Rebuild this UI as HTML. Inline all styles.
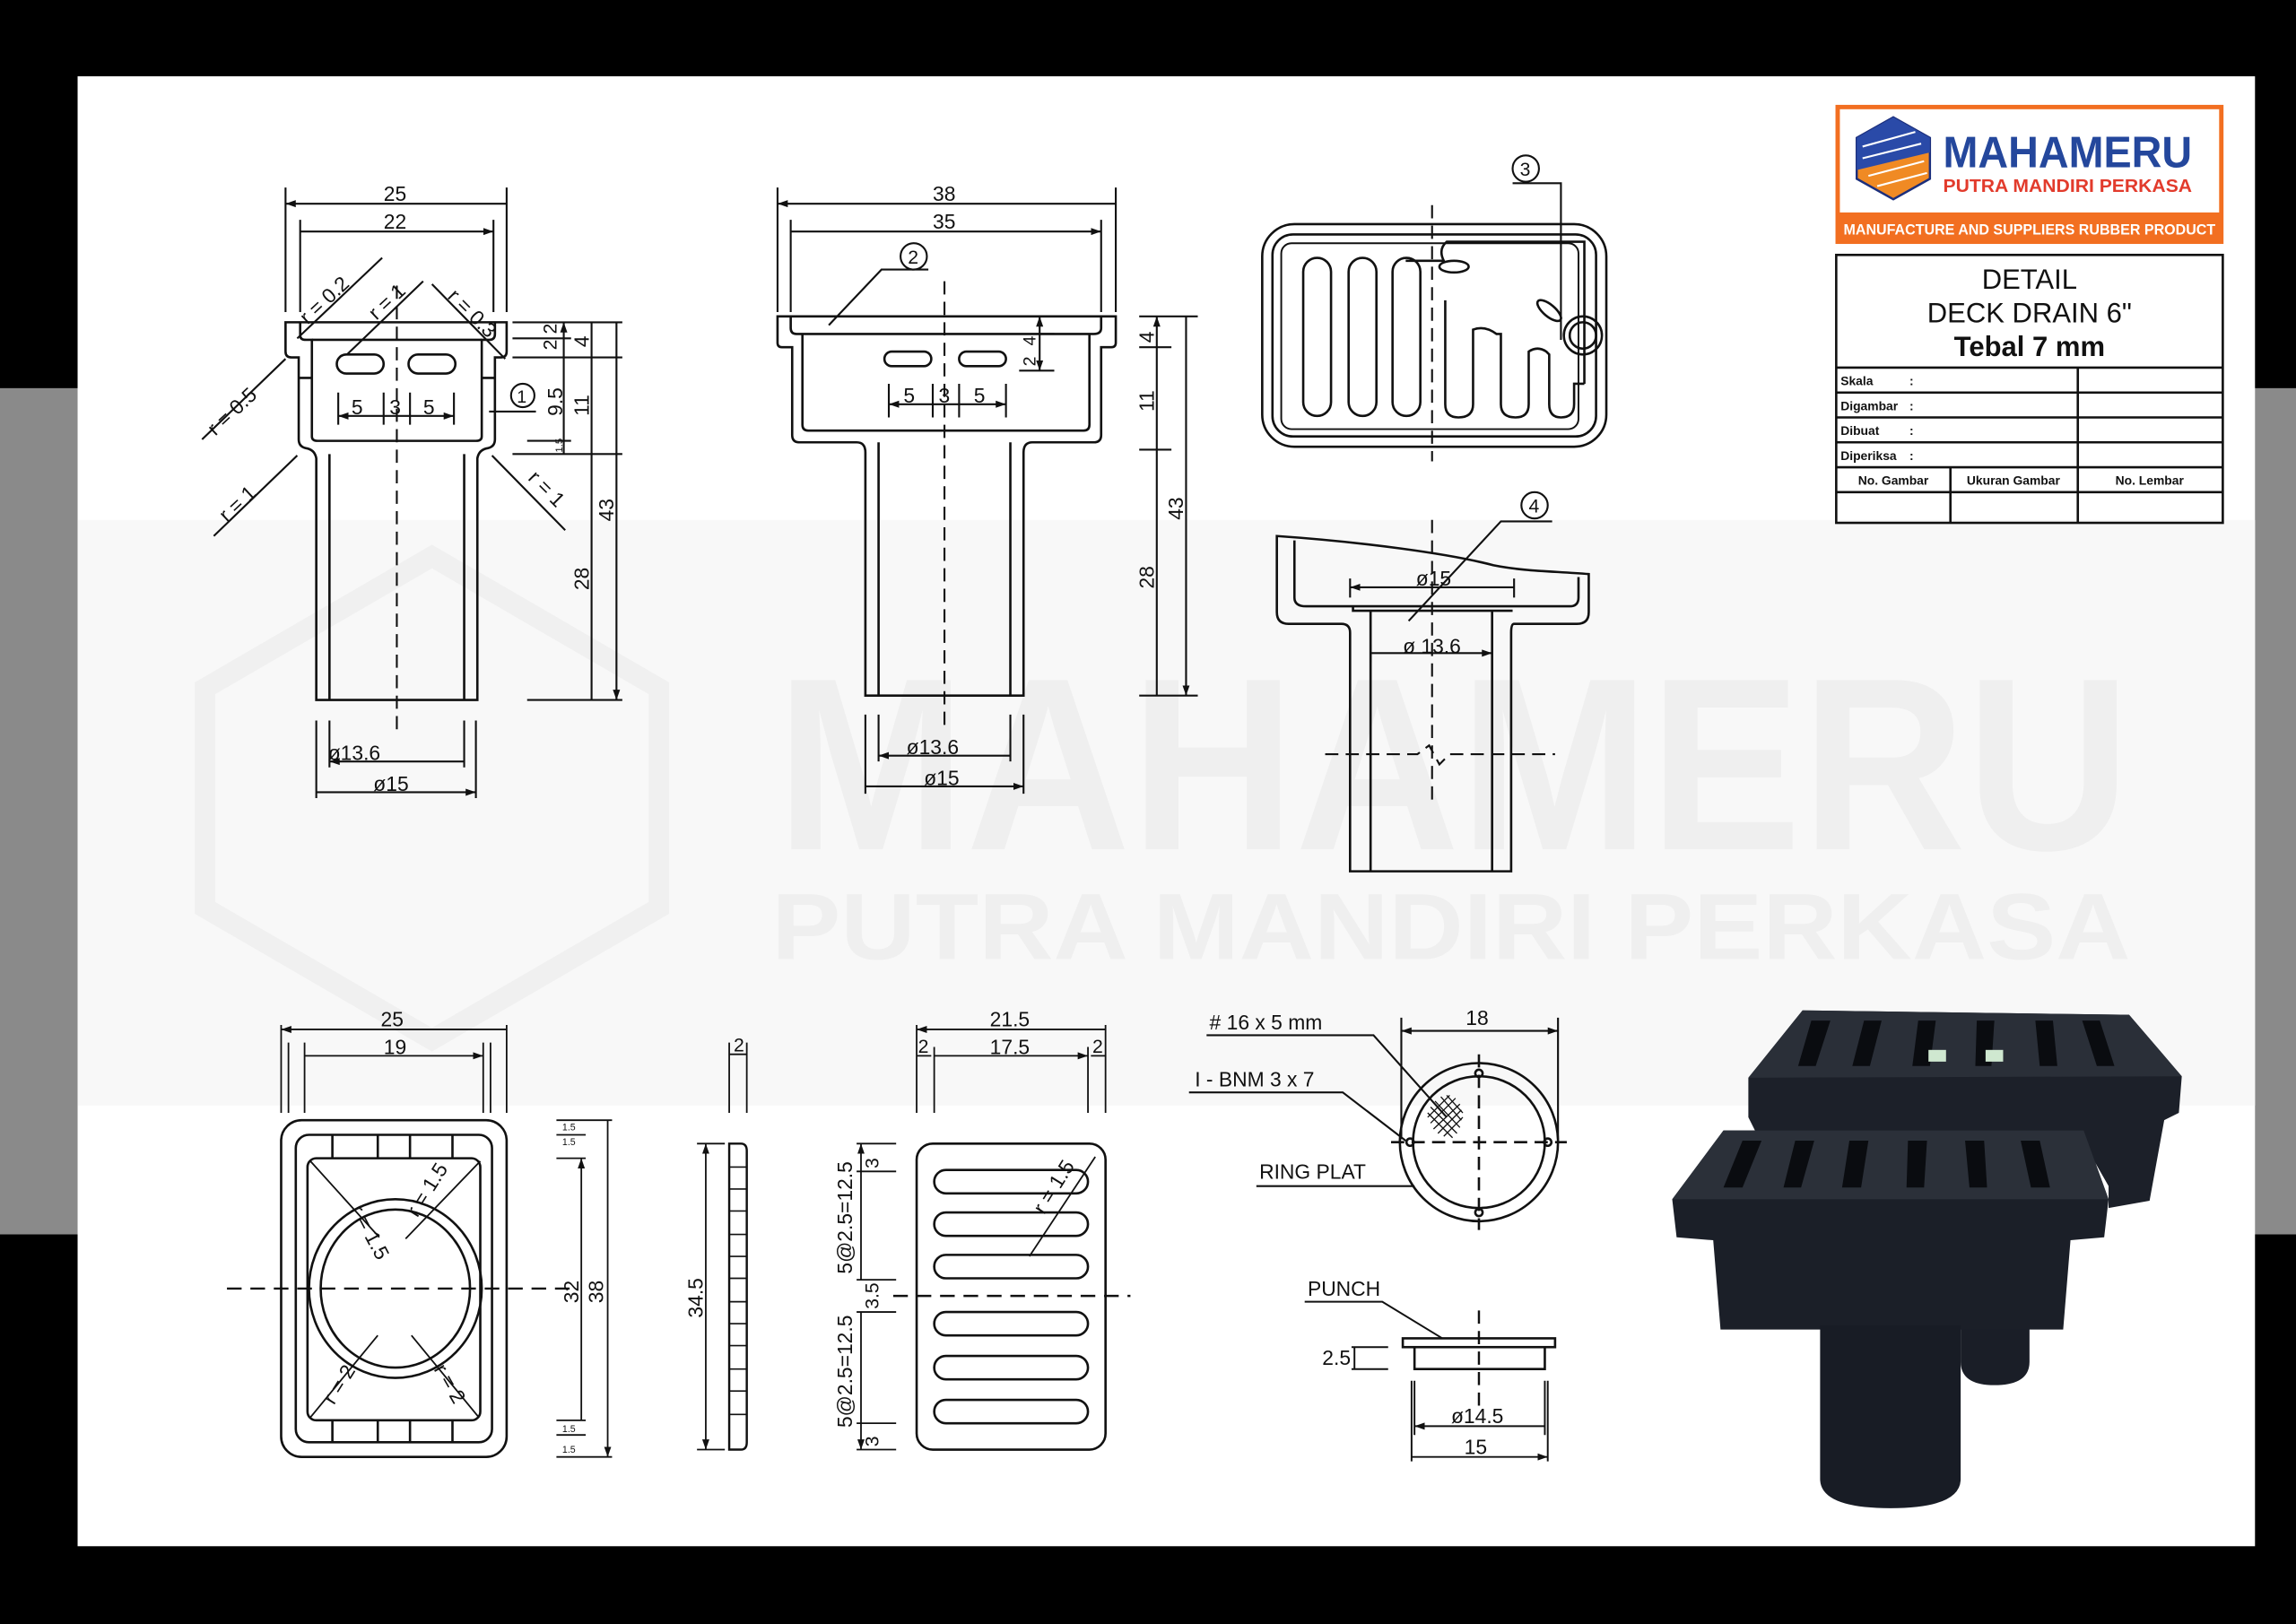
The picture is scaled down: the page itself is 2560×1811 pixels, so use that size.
<!DOCTYPE html>
<html><head><meta charset="utf-8"><style>
html,body{margin:0;padding:0;background:#000;}
svg{display:block;}
text{font-family:"Liberation Sans",sans-serif;fill:#111;}
</style></head><body>
<svg width="2560" height="1811" viewBox="0 0 1568 1109" xmlns="http://www.w3.org/2000/svg">
<defs>
<marker id="a" viewBox="0 0 10 10" refX="10" refY="5" markerWidth="7" markerHeight="7" orient="auto-start-reverse" markerUnits="userSpaceOnUse"><path d="M0,1.5 L10,5 L0,8.5 z" fill="#111"/></marker>
</defs>
<rect width="1568" height="1109" fill="#000"/>
<rect x="0" y="265" width="1568" height="578" fill="#8a8a8a"/>
<rect x="53" y="52" width="1487" height="1004" fill="#fff"/>
<rect x="53" y="355" width="1487" height="400" fill="#f8f8f8"/>
<!-- watermark -->
<g>
<text x="530" y="580" font-size="168" font-weight="bold" textLength="925" lengthAdjust="spacingAndGlyphs" style="fill:#efefef">MAHAMERU</text>
<text x="527" y="655" font-size="64" font-weight="bold" textLength="928" lengthAdjust="spacingAndGlyphs" style="fill:#efefef">PUTRA MANDIRI PERKASA</text>
</g>
<polygon points="295,380 450,470 450,620 295,710 140,620 140,470" fill="none" stroke="#f0f0f0" stroke-width="14"/>

<g fill="none" stroke="#111" stroke-width="1.6">
<!-- DRAWING 1 -->
<path d="M195,220 H346 V240 Q346,244 342,244 H338 V300 Q338,305 333,306 Q327,307 326,313 V478 H216 V313 Q215,307 209,306 Q204,305 204,300 V244 H199 Q195,244 195,240 Z"/>
<path d="M205,220 V229 Q205,232 209,232 H213 V298 Q213,301 217,301 H325 Q329,301 329,298 V232 H334 Q338,232 338,228 V220"/>
<path d="M213,232 H329"/>
<path d="M225,310 V478 M317,310 V478"/>
<path d="M204,258 H213 M329,258 H338"/>
<rect x="230" y="242" width="32" height="13" rx="6.5"/>
<rect x="279" y="242" width="32" height="13" rx="6.5"/>
</g>
<g stroke="#111" stroke-width="1.3" fill="none">
<path d="M271,195 V500" stroke-dasharray="9,5"/>
<path d="M195,128 V213 M346,128 V213 M205,150 V213 M337,150 V213"/>
<path d="M195,139 H346 M205,158 H337" marker-start="url(#a)" marker-end="url(#a)"/>
<path d="M231,268 V290 M262,268 V290 M280,268 V290 M310,268 V290"/>
<path d="M231,284 H262 M262,284 H280 M280,284 H310" marker-start="url(#a)" marker-end="url(#a)"/>
<path d="M350,220 H425 M350,231 H390 M350,244 H425 M360,301 H390 M350,310 H425 M360,478 H425"/>
<path d="M385,220 V231 M385,231 V244 M385,244 V301 M385,301 V310 M404,220 V244 M404,244 V310 M404,310 V478 M421,220 V478" marker-start="url(#a)" marker-end="url(#a)"/>
<path d="M216,492 V545 M325,492 V545 M225,492 V524 M317,492 V524"/>
<path d="M225,520 H317 M216,541 H325" marker-start="url(#a)" marker-end="url(#a)"/>
<path d="M203,231 L261,176 M237,242 L289,192 M295,194 L345,245 M195,245 L138,300 M203,311 L146,366 M336,311 L386,362 M334,281 H366"/>
<circle cx="357" cy="270" r="8"/>
</g>
<g font-size="14">
<text x="262" y="137">25</text><text x="262" y="156">22</text>
<text x="240" y="283">5</text><text x="266" y="283">3</text><text x="289" y="283">5</text>
<text x="353" y="275" font-size="12">1</text>
<text x="224" y="519">ø13.6</text><text x="255" y="540">ø15</text>
<text transform="translate(380,239) rotate(-90)" font-size="13">2</text>
<text transform="translate(380,228) rotate(-90)" font-size="13">2</text>
<text transform="translate(402,237) rotate(-90)">4</text>
<text transform="translate(384,284) rotate(-90)">9.5</text>
<text transform="translate(402,284) rotate(-90)">11</text>
<text transform="translate(384,309) rotate(-90)" font-size="7">1.5</text>
<text transform="translate(402,403) rotate(-90)">28</text>
<text transform="translate(419,356) rotate(-90)">43</text>
<text transform="translate(210,222) rotate(-43)">r = 0.2</text>
<text transform="translate(257,219) rotate(-43)">r = 1</text>
<text transform="translate(305,203) rotate(45)">r = 0.3</text>
<text transform="translate(147,298) rotate(-43)">r = 0.5</text>
<text transform="translate(155,357) rotate(-43)">r = 1</text>
<text transform="translate(360,327) rotate(45)">r = 1</text>
</g>

<!-- DRAWING 2 -->
<g fill="none" stroke="#111" stroke-width="1.6">
<path d="M531,216 H762 V234 Q762,237 759,237 H752 V297 Q752,302 747,302 H705 Q699,302 699,309 V475 H591 V309 Q591,302 585,302 H546 Q541,302 541,297 V237 H534 Q531,237 531,234 Z"/>
<path d="M540,216 V224 Q540,228 544,228 H747 Q752,228 752,224 V216"/>
<path d="M548,228 V290 Q548,294 552,294 H740 Q744,294 744,290 V228"/>
<path d="M600,302 V475 M690,302 V475"/>
<rect x="604" y="240" width="32" height="10" rx="5"/>
<rect x="655" y="240" width="32" height="10" rx="5"/>
</g>
<g stroke="#111" stroke-width="1.3" fill="none">
<path d="M645,192 V500" stroke-dasharray="9,5"/>
<path d="M531,128 V213 M762,128 V213 M540,150 V213 M752,150 V213"/>
<path d="M531,139 H762 M540,158 H752" marker-start="url(#a)" marker-end="url(#a)"/>
<path d="M607,262 V285 M637,262 V285 M655,262 V285 M687,262 V285"/>
<path d="M607,276 H637 M637,276 H655 M655,276 H687" marker-start="url(#a)" marker-end="url(#a)"/>
<path d="M708,228 H720 M696,253 H720"/>
<path d="M710,216 V228 M710,228 V253" marker-start="url(#a)" marker-end="url(#a)"/>
<path d="M778,216 H818 M778,237 H800 M778,307 H800 M778,475 H818"/>
<path d="M790,216 V237 M790,237 V307 M790,307 V475 M810,216 V475" marker-start="url(#a)" marker-end="url(#a)"/>
<path d="M591,488 V542 M699,488 V542 M600,488 V520 M690,488 V520"/>
<path d="M600,516 H690 M591,537 H699" marker-start="url(#a)" marker-end="url(#a)"/>
<path d="M634,184 H602 L566,222"/>
<circle cx="624" cy="175" r="9"/>
</g>
<g font-size="14">
<text x="637" y="137">38</text><text x="637" y="156">35</text>
<text x="617" y="275">5</text><text x="641" y="275">3</text><text x="665" y="275">5</text>
<text x="620" y="180" font-size="13">2</text>
<text transform="translate(707,236) rotate(-90)" font-size="12">4</text>
<text transform="translate(707,250) rotate(-90)" font-size="12">2</text>
<text transform="translate(788,234) rotate(-90)">4</text>
<text transform="translate(788,281) rotate(-90)">11</text>
<text transform="translate(788,402) rotate(-90)">28</text>
<text transform="translate(808,355) rotate(-90)">43</text>
<text x="619" y="515">ø13.6</text><text x="631" y="536">ø15</text>
</g>

<!-- DRAWING 3 grate top -->
<g fill="none" stroke="#111" stroke-width="1.6">
<rect x="862" y="153" width="235" height="152" rx="22"/>
<rect x="869" y="160" width="221" height="138" rx="14"/>
<rect x="875" y="166" width="203" height="127" rx="7" stroke-width="1.2"/>
<rect x="890" y="176" width="19" height="108" rx="9.5"/>
<rect x="921" y="176" width="19" height="108" rx="9.5"/>
<rect x="951" y="176" width="19" height="108" rx="9.5"/>
<path d="M987,205 V276 Q987,285 996,285 Q1006,285 1006,276 V225 Q1014,222 1022,228 L1025,228 V276 Q1025,285 1035,285 Q1044,285 1044,276 V240 Q1050,236 1056,240 L1058,242 V276 Q1058,285 1066,285 Q1075,285 1075,276 V262 L1082,262"/>
<path d="M960,178 L986,178 Q982,170 988,165 L1082,165 V262"/>
<ellipse cx="993" cy="182" rx="10" ry="4"/>
<ellipse cx="1058" cy="212" rx="10" ry="4" transform="rotate(40 1058 212)"/>
<circle cx="1081" cy="229" r="13"/><circle cx="1081" cy="229" r="9"/>
</g>
<g stroke="#111" stroke-width="1.3" fill="none">
<path d="M978,140 V315" stroke-dasharray="9,5"/>
<path d="M1033,125 H1066 V232"/>
<circle cx="1042" cy="115" r="9"/>
</g>
<text x="1038" y="120" font-size="13">3</text>

<!-- DRAWING 4 -->
<g fill="none" stroke="#111" stroke-width="1.6">
<path d="M872,366 C930,370 990,378 1020,386 C1040,390 1060,390 1085,392 V418 Q1085,426 1077,426 H1034 Q1032,426 1032,432 V595 H922 V432 Q922,426 916,426 H880 Q872,426 872,418 Z"/>
<path d="M884,369 V408 Q884,414 892,414 H1072 Q1078,414 1078,408 V394"/>
<path d="M924,414 V417 H1033 M936,417 V595 M1019,417 V595"/>
</g>
<g stroke="#111" stroke-width="1.3" fill="none">
<path d="M978,355 V550" stroke-dasharray="9,5"/>
<path d="M905,515 H968 L976,509 L983,522 L990,515 H1062" stroke-dasharray="9,5"/>
<path d="M922,395 V408 M1034,395 V408 M936,440 V452"/>
<path d="M922,401 H1034 M936,446 H1019" marker-start="url(#a)" marker-end="url(#a)"/>
<path d="M1060,356 H1025 L962,424"/>
<circle cx="1048" cy="345" r="9"/>
</g>
<text x="1044" y="350" font-size="13">4</text>
<text x="967" y="400" font-size="14">ø15</text>
<text x="958" y="446" font-size="14">ø 13.6</text>

<!-- TITLE BLOCK -->
<rect x="1255" y="73" width="262" height="92" fill="#fff" stroke="#f26f21" stroke-width="3"/>
<rect x="1255" y="145" width="262" height="20" fill="#f26f21"/>
<text x="1386" y="160" font-size="10" font-weight="bold" text-anchor="middle" style="fill:#fff" textLength="254" lengthAdjust="spacingAndGlyphs">MANUFACTURE AND SUPPLIERS RUBBER PRODUCT</text>
<polygon points="1293,80 1318,94 1318,122 1293,136 1268,122 1268,94" fill="#f08a24" stroke="#1c2f7c" stroke-width="1.5"/>
<polygon points="1293,80 1318,94 1318,104 1268,116 1268,94" fill="#2a4aa8"/>
<g stroke="#fff" stroke-width="1.3"><path d="M1272,100 L1308,90 M1272,108 L1312,98 M1276,120 L1314,110 M1282,127 L1316,118"/></g>
<text x="1327" y="114" font-size="30" font-weight="bold" style="fill:#24479c" textLength="170" lengthAdjust="spacingAndGlyphs">MAHAMERU</text>
<text x="1327" y="131" font-size="12.5" font-weight="bold" style="fill:#e23b2c" textLength="170" lengthAdjust="spacingAndGlyphs">PUTRA MANDIRI PERKASA</text>
<g fill="none" stroke="#111" stroke-width="1.6">
<rect x="1254" y="174" width="264" height="183"/>
<path d="M1254,251 H1518 M1254,268 H1518 M1254,285 H1518 M1254,302 H1518 M1254,319 H1518 M1254,336 H1518 M1419,251 V357 M1332,319 V357"/>
</g>
<g font-size="19" text-anchor="middle"><text x="1386" y="197">DETAIL</text><text x="1386" y="220">DECK DRAIN 6"</text><text x="1386" y="243" font-weight="bold">Tebal 7 mm</text></g>
<g font-size="8.5" font-weight="bold">
<text x="1257" y="263">Skala</text><text x="1304" y="263">:</text>
<text x="1257" y="280">Digambar</text><text x="1304" y="280">:</text>
<text x="1257" y="297">Dibuat</text><text x="1304" y="297">:</text>
<text x="1257" y="314">Diperiksa</text><text x="1304" y="314">:</text>
<text x="1293" y="331" text-anchor="middle">No. Gambar</text>
<text x="1375" y="331" text-anchor="middle">Ukuran Gambar</text>
<text x="1468" y="331" text-anchor="middle">No. Lembar</text>
</g>

<!-- BOTTOM LEFT grate plan -->
<g fill="none" stroke="#111" stroke-width="1.6">
<rect x="192" y="765" width="154" height="230" rx="14"/>
<rect x="202" y="775" width="134" height="210" rx="9"/>
<rect x="210" y="791" width="118" height="179" rx="6"/>
<path d="M227,775 V791 M258,775 V791 M280,775 V791 M309,775 V791 M227,970 V985 M258,970 V985 M280,970 V985 M309,970 V985"/>
<ellipse cx="270" cy="880" rx="59" ry="61"/>
<ellipse cx="270" cy="880" rx="51" ry="54"/>
</g>
<g stroke="#111" stroke-width="1.1" fill="none">
<path d="M212,793 L259,845 M328,793 L277,846 M212,968 L258,912 M327,968 L281,912"/>
<path d="M155,880 H395" stroke-dasharray="10,6" stroke-width="1.5"/>
<path d="M192,700 V760 M197,712 V760 M208,712 V760 M330,712 V760 M335,712 V760 M346,700 V760"/>
<path d="M192,703 H346 M208,721 H330" marker-start="url(#a)" marker-end="url(#a)"/>
<path d="M380,765 H418 M380,775 H400 M380,791 H400 M380,970 H400 M380,980 H400 M380,995 H418"/>
<path d="M397,791 V970 M415,765 V995" marker-start="url(#a)" marker-end="url(#a)"/>
</g>
<g font-size="14">
<text x="260" y="701">25</text><text x="262" y="720">19</text>
<text transform="translate(395,890) rotate(-90)">32</text>
<text transform="translate(412,890) rotate(-90)">38</text>
<text transform="translate(239,826) rotate(62)">r = 1.5</text>
<text transform="translate(285,832) rotate(-58)">r = 1.5</text>
<text transform="translate(228,960) rotate(-58)">r = 2</text>
<text transform="translate(296,935) rotate(60)">r = 2</text>
</g>
<g font-size="6.5" fill="#555"><text x="384" y="772">1.5</text><text x="384" y="782">1.5</text><text x="384" y="978">1.5</text><text x="384" y="992">1.5</text></g>

<!-- side strip -->
<g fill="none" stroke="#111" stroke-width="1.5">
<path d="M498,781 H506 Q510,781 510,786 V985 Q510,990 506,990 H498 Z"/>
<path d="M498,797 H510 M498,812 H510 M498,827 H510 M498,843 H510 M498,858 H510 M498,873 H510 M498,889 H510 M498,904 H510 M498,919 H510 M498,935 H510 M498,950 H510 M498,966 H510" stroke-width="1"/>
</g>
<g stroke="#111" stroke-width="1.1" fill="none">
<path d="M498,712 V760 M510,712 V760 M498,720 H510"/>
<path d="M476,781 H495 M476,990 H495"/>
<path d="M482,781 V990" marker-start="url(#a)" marker-end="url(#a)"/>
</g>
<text x="501" y="718" font-size="13">2</text>
<text transform="translate(480,900) rotate(-90)" font-size="14">34.5</text>

<!-- bottom grate -->
<g fill="none" stroke="#111" stroke-width="1.6">
<rect x="626" y="781" width="129" height="209" rx="11"/>
<rect x="638" y="799" width="105" height="16" rx="8"/>
<rect x="638" y="828" width="105" height="16" rx="8"/>
<rect x="638" y="857" width="105" height="16" rx="8"/>
<rect x="638" y="896" width="105" height="16" rx="8"/>
<rect x="638" y="926" width="105" height="16" rx="8"/>
<rect x="638" y="956" width="105" height="16" rx="8"/>
</g>
<g stroke="#111" stroke-width="1.1" fill="none">
<path d="M610,885 H772" stroke-dasharray="10,6" stroke-width="1.5"/>
<path d="M626,700 V760 M638,715 V760 M743,715 V760 M755,700 V760"/>
<path d="M626,703 H755 M638,721 H743" marker-start="url(#a)" marker-end="url(#a)"/>
<path d="M626,721 H636 M745,721 H755"/>
<path d="M585,781 H612 M585,800 H612 M585,874 H612 M585,896 H612 M585,972 H612 M585,990 H612"/>
<path d="M588,781 V874 M588,896 V990" marker-start="url(#a)" marker-end="url(#a)"/>
<path d="M703,858 L748,790"/>
</g>
<g font-size="14">
<text x="676" y="701">21.5</text><text x="676" y="720">17.5</text>
<text x="627" y="719" font-size="13">2</text><text x="746" y="719" font-size="13">2</text>
<text transform="translate(600,798) rotate(-90)" font-size="13">3</text>
<text transform="translate(582,870) rotate(-90)">5@2.5=12.5</text>
<text transform="translate(600,894) rotate(-90)" font-size="13">3.5</text>
<text transform="translate(582,975) rotate(-90)">5@2.5=12.5</text>
<text transform="translate(600,988) rotate(-90)" font-size="13">3</text>
<text transform="translate(713,830) rotate(-58)">r = 1.5</text>
</g>

<!-- ring plat -->
<g fill="none" stroke="#111" stroke-width="1.6">
<circle cx="1010" cy="780" r="54"/>
<circle cx="1010" cy="780" r="45"/>
<circle cx="963" cy="780" r="2.5"/><circle cx="1057" cy="780" r="2.5"/><circle cx="1010" cy="733" r="2.5"/><circle cx="1010" cy="828" r="2.5"/>
</g>
<g stroke="#111" stroke-width="0.8"><path d="M975,763 L990,748 M977,767 L994,750 M979,771 L997,754 M982,774 L998,758 M986,776 L999,763 M975,760 L992,777 M977,756 L995,774 M980,752 L997,770 M984,749 L998,765 M988,748 L999,760"/></g>
<g stroke="#111" stroke-width="1.3" fill="none">
<path d="M1010,720 V840 M950,780 H1070" stroke-dasharray="9,5" stroke-width="1.6"/>
<path d="M957,695 V778 M1064,695 V778"/>
<path d="M957,704 H1064" marker-start="url(#a)" marker-end="url(#a)"/>
<path d="M824,707 H938 L988,763 M812,746 H917 L960,779 M858,810 H966"/>
</g>
<g font-size="14">
<text x="1001" y="700">18</text>
<text x="826" y="703">#  16  x  5   mm</text>
<text x="816" y="742">I  -  BNM  3 x 7</text>
<text x="860" y="805">RING PLAT</text>
</g>
<!-- punch -->
<g fill="none" stroke="#111" stroke-width="1.6">
<rect x="958" y="914" width="104" height="6"/>
<path d="M966,920 V935 H1055 V920"/>
</g>
<g stroke="#111" stroke-width="1.2" fill="none">
<path d="M1010,895 V965" stroke-dasharray="9,5" stroke-width="1.5"/>
<path d="M891,889 H944 L985,914"/>
<path d="M923,920 H948 M923,935 H948 M925,920 V935"/>
<path d="M964,943 V998 M966,943 V980 M1055,943 V980 M1057,943 V998"/>
<path d="M966,974 H1055 M964,995 H1057" marker-start="url(#a)" marker-end="url(#a)"/>
</g>
<g font-size="14">
<text x="893" y="885">PUNCH</text>
<text x="903" y="932">2.5</text>
<text x="991" y="972">ø14.5</text>
<text x="1000" y="993">15</text>
</g>

<!-- photo -->
<g>
<polygon points="1194,736 1231,690 1454,693 1490,735 1488,760 1478,765 1468,820 1440,825 1440,810 1420,775 1200,775 1194,763" fill="#1c2029"/>
<polygon points="1231,690 1454,693 1490,735 1194,736" fill="#2a2f38"/>
<path d="M1339,900 H1386 V930 Q1386,946 1362,946 Q1339,946 1339,930 Z" fill="#1a1e27"/>
<polygon points="1142,819 1177,772 1423,772 1440,819 1437,845 1414,847 1409,908 1175,908 1170,847 1145,845" fill="#1b1f28"/>
<polygon points="1177,772 1423,772 1440,819 1142,819" fill="#2b3039"/>
<path d="M1243,905 H1339 V1010 Q1339,1030 1291,1030 Q1243,1030 1243,1010 Z" fill="#181c25"/>
<g fill="#0a0c10">
<polygon points="1237,697 1250,697 1240,728 1228,728"/><polygon points="1273,697 1285,697 1277,728 1265,728"/><polygon points="1310,697 1322,697 1318,728 1306,728"/><polygon points="1350,697 1362,697 1360,728 1349,728"/><polygon points="1390,697 1402,697 1405,728 1393,728"/><polygon points="1422,697 1434,697 1444,728 1432,728"/>
<polygon points="1190,779 1203,779 1190,811 1177,811"/><polygon points="1226,779 1239,779 1230,811 1218,811"/><polygon points="1263,779 1276,779 1271,811 1258,811"/><polygon points="1303,779 1316,779 1314,811 1302,811"/><polygon points="1342,779 1355,779 1357,811 1345,811"/><polygon points="1380,779 1393,779 1400,811 1387,811"/>
</g>
<rect x="1317" y="717" width="12" height="8" fill="#cfe8d0"/><rect x="1356" y="717" width="12" height="8" fill="#cfe8d0"/>
</g>
</svg>
</body></html>
